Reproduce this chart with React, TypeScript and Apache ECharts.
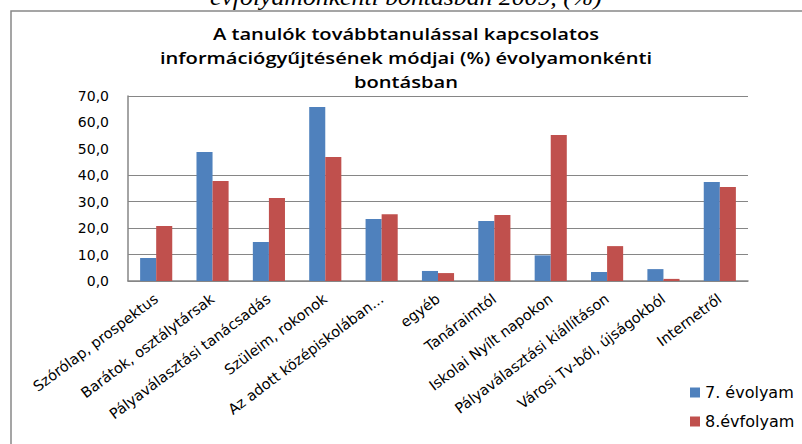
import React, { useEffect, useRef } from "react";
import * as echarts from "echarts";

const categories = [
  "Szórólap, prospektus",
  "Barátok, osztálytársak",
  "Pályaválasztási tanácsadás",
  "Szüleim, rokonok",
  "Az adott középiskolában...",
  "egyéb",
  "Tanáraimtól",
  "Iskolai Nyílt napokon",
  "Pályaválasztási kiállításon",
  "Városi Tv-ből, újságokból",
  "Internetről",
];
const grade7 = [8.7, 48.8, 14.8, 65.8, 23.5, 3.8, 22.7, 9.7, 3.4, 4.5, 37.5];
const grade8 = [20.8, 37.8, 31.4, 46.9, 25.3, 3.0, 25.0, 55.2, 13.2, 0.8, 35.6];
const seriesNames = ["7. évolyam", "8.évfolyam"];
const titleText =
  "A tanulók továbbtanulással kapcsolatos\ninformációgyűjtésének módjai (%) évolyamonkénti\nbontásban";
const captionText = "évfolyamonkénti bontásban 2009, (%)";

export default function App() {
  const ref = useRef<HTMLDivElement>(null);
  useEffect(() => {
    if (!ref.current) return;
    const chart = echarts.init(ref.current, null, { renderer: "svg" });
    const axisFont = "DejaVu Sans";
    chart.setOption({
      animation: false,
      backgroundColor: "#ffffff",
      graphic: [
        {
          type: "rect",
          shape: { x: 11, y: 11, width: 820, height: 460 },
          style: { fill: "none", stroke: "#888888", lineWidth: 1.5 },
          silent: true,
        },
        {
          type: "text",
          x: 210,
          y: 8,
          scaleX: 1.12,
          style: {
            text: captionText,
            font: "italic 23px 'Liberation Serif'",
            fill: "#000000",
            verticalAlign: "bottom",
          },
          silent: true,
        },
        {
          type: "text",
          x: 406,
          y: 22,
          scaleX: 1.3,
          style: {
            text: titleText,
            font: "600 15.5px 'Open Sans'",
            lineHeight: 24,
            align: "center",
            verticalAlign: "top",
            fill: "#000000",
          },
          silent: true,
        },
      ],
      legend: {
        orient: "vertical",
        left: 685,
        top: 378,
        itemWidth: 10,
        itemHeight: 10,
        itemGap: 10,
        icon: "rect",
        textStyle: { fontFamily: axisFont, fontSize: 16, color: "#000", lineHeight: 19 },
        data: seriesNames,
      },
      grid: { left: 128, right: 54, top: 96, bottom: 163, containLabel: false },
      xAxis: {
        type: "category",
        data: categories,
        axisLine: { lineStyle: { color: "#868686", width: 1.5 } },
        axisTick: { show: false },
        axisLabel: {
          interval: 0,
          rotate: 37,
          margin: 16,
          fontFamily: axisFont,
          fontSize: 14.5,
          color: "#000",
        },
      },
      yAxis: {
        type: "value",
        min: 0,
        max: 70,
        interval: 10,
        axisLine: { show: true, lineStyle: { color: "#868686", width: 1.5 } },
        axisTick: { show: false },
        axisLabel: {
          margin: 19,
          fontFamily: axisFont,
          fontSize: 14,
          color: "#000",
          formatter: (v: number) => v.toFixed(1).replace(".", ","),
        },
        splitLine: {
          lineStyle: {
            width: 1,
            color: [
              "#868686",
              "#868686",
              "#868686",
              "#868686",
              "#868686",
              "transparent",
              "transparent",
              "#868686",
            ],
          },
        },
      },
      series: [
        {
          name: seriesNames[0],
          type: "bar",
          data: grade7,
          itemStyle: { color: "#4F81BD" },
          barGap: "0%",
          barCategoryGap: "43%",
        },
        {
          name: seriesNames[1],
          type: "bar",
          data: grade8,
          itemStyle: { color: "#C0504D" },
          barGap: "0%",
          barCategoryGap: "43%",
        },
      ],
    });
    return () => chart.dispose();
  }, []);
  return (
    <div
      ref={ref}
      style={{ position: "fixed", left: 0, top: 0, width: 802, height: 444 }}
    />
  );
}
